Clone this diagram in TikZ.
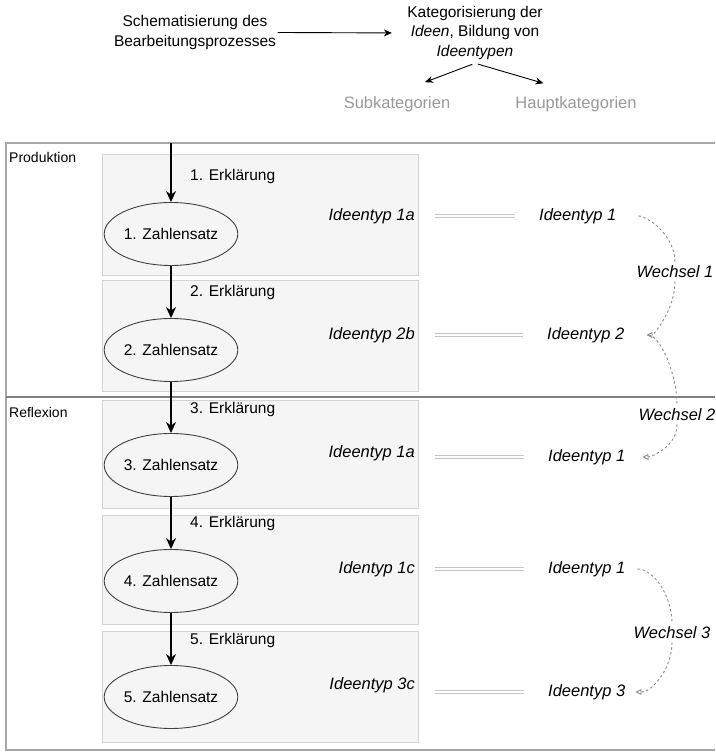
\documentclass[tikz,border=0pt]{standalone}
\usepackage{fontspec}
\setmainfont{Liberation Sans}
\usetikzlibrary{arrows.meta,positioning,shapes.geometric}
\definecolor{boxfill}{HTML}{F5F5F5}
\definecolor{boxline}{HTML}{D4D4D4}
\definecolor{frameline}{HTML}{A8A8A8}
\definecolor{catgray}{HTML}{999999}
\definecolor{dblgray}{HTML}{C4C4C4}

\begin{document}
\begin{tikzpicture}[x=1pt,y=1pt,
    every node/.style={font=\fontsize{15.5}{19.5}\selectfont},
    zahl/.style={ellipse,draw=black!75,line width=0.9pt,minimum width=128pt,minimum height=63pt,inner sep=0pt},
    erkl/.style={anchor=west,inner sep=0pt},
    subtyp/.style={anchor=east,inner sep=0pt,font=\fontsize{16.5}{20}\selectfont\itshape},
    haupttyp/.style={anchor=west,inner sep=0pt,font=\fontsize{16.5}{20}\selectfont\itshape},
    wlabel/.style={inner sep=3pt,font=\fontsize{16.5}{20}\selectfont\itshape},
    kategorie/.style={text=catgray,font=\fontsize{16.5}{20}\selectfont},
    phase/.style={anchor=west,inner sep=0pt,font=\fontsize{14}{17}\selectfont},
    flow/.style={line width=1.4pt,-{Stealth[length=11pt,width=10pt]}},
    gleich/.style={draw=dblgray,double=white,double distance=2pt,line width=0.9pt,shorten <=20pt,shorten >=24pt},
    wechsel/.style={draw=black!45,line width=0.9pt,dash pattern=on 2.5pt off 2.5pt}]
\useasboundingbox (0,0) rectangle (715,752);

% Kopfzeile
\node[align=center] (schema) at (195,719.5) {Schematisierung des\\Bearbeitungsprozesses};
\node[align=center] (kat) at (475,719) {Kategorisierung der\\\textit{Ideen}, Bildung von\\\textit{Ideentypen}};
\node[kategorie] (sub) at (397,648) {Subkategorien};
\node[kategorie] (haupt) at (576,648) {Hauptkategorien};
\draw[line width=0.9pt,-{Stealth[length=8pt,width=7pt]},shorten <=-2pt,shorten >=12pt] (schema.east) -- (kat.west);
\draw[line width=0.9pt,-{Stealth[length=8pt,width=7pt]},shorten <=3pt,shorten >=30pt] (kat.south) -- (sub.north);
\draw[line width=0.9pt,-{Stealth[length=8pt,width=7pt]},shorten <=3pt,shorten >=34pt] (kat.south) -- (haupt.north);

% Rahmen und Phasen
\draw[frameline,line width=1.2pt] (715,609) -- (6,609) -- (6,2) -- (715,2);
\draw[black!50,line width=1.6pt] (6,355) -- (715,355);
\node[phase] (prod) at (9,594) {Produktion};
\node[phase] (refl) at (9,339) {Reflexion};

\foreach \ya/\yb in {598/477,472/361,352/244,237/128,121/10}
  \filldraw[fill=boxfill,draw=boxline,line width=0.9pt] (102,\ya) rectangle (418,\yb);

% Zahlensaetze
\foreach \i/\y in {1/518,2/402,3/287,4/171,5/55}
  \node[zahl] (z\i) at (171,\y) {\i. Zahlensatz};
\foreach \i/\y in {1/575,2/460,3/343,4/229,5/112}
  \node[erkl] (e\i) at (190,\y) {\i. Erklärung};

\coordinate (start) at (171,609);
\draw[flow] (start) -- (z1);
\foreach \i/\j in {1/2,2/3,3/4,4/5}
  \draw[flow] (z\i) -- (z\j);

% Ideentypen
\node[subtyp] (s1) at (415,536) {Ideentyp 1a};
\node[subtyp] (s2) at (415,417) {Ideentyp 2b};
\node[subtyp] (s3) at (415,299) {Ideentyp 1a};
\node[subtyp] (s4) at (415,183) {Identyp 1c};
\node[subtyp] (s5) at (415,67) {Ideentyp 3c};
\node[haupttyp] (h1) at (539,536) {Ideentyp 1};
\node[haupttyp] (h2) at (547,417) {Ideentyp 2};
\node[haupttyp] (h3) at (548,295) {Ideentyp 1};
\node[haupttyp] (h4) at (548,183) {Ideentyp 1};
\node[haupttyp] (h5) at (548,60) {Ideentyp 3};
\foreach \i in {1,...,5}
  \draw[gleich] (s\i.east |- h\i.west) -- (h\i.west);

% Wechsel
\node[wlabel] (w1) at (675,480) {Wechsel 1};
\node[wlabel] (w2) at (677,337) {Wechsel 2};
\node[wlabel] (w3) at (672,119) {Wechsel 3};
\draw[wechsel,shorten <=22pt] (h1.east) to[out=0,in=90] (w1.north);
\draw[wechsel,shorten >=22pt,-{Triangle[open,length=6pt,width=6pt]}] (w1.south) to[out=-90,in=0] (h2.east);
\draw[wechsel,shorten <=24pt] (h2.east) to[out=0,in=90] (w2.north);
\draw[wechsel,shorten >=17pt,-{Triangle[open,length=6pt,width=6pt]}] (w2.south) to[out=-90,in=0] (h3.east);
\draw[wechsel,shorten <=12pt] (h4.east) to[out=0,in=90] (w3.north);
\draw[wechsel,shorten >=10pt,-{Triangle[open,length=6pt,width=6pt]}] (w3.south) to[out=-90,in=0] (h5.east);
\end{tikzpicture}
\end{document}
